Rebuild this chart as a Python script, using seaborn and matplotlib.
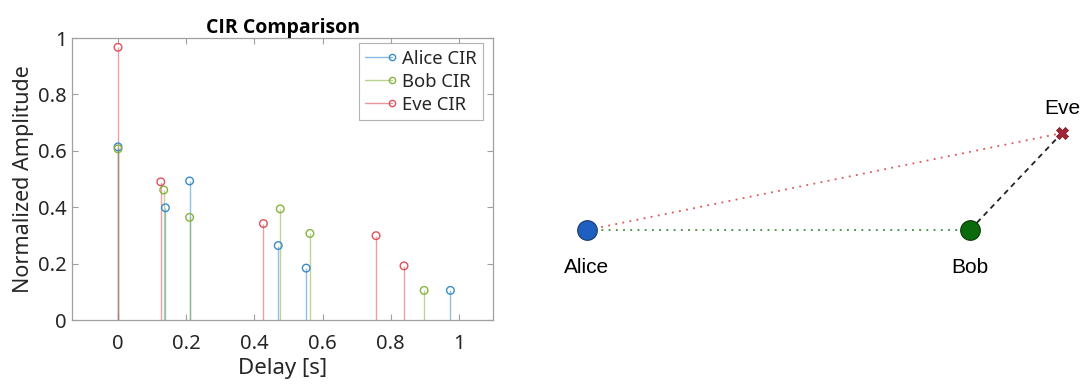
import numpy as np
import pandas as pd
import matplotlib
matplotlib.use("Agg")
import matplotlib.pyplot as plt
from matplotlib.lines import Line2D
from matplotlib.legend_handler import HandlerBase
import seaborn as sns

# ---- data ----
alice_delay = [0.0, 0.139, 0.21, 0.47, 0.552, 0.975]
alice_amp = [0.614, 0.398, 0.493, 0.264, 0.184, 0.105]
bob_delay = [0.0, 0.134, 0.21, 0.476, 0.563, 0.898]
bob_amp = [0.607, 0.461, 0.364, 0.394, 0.307, 0.105]
eve_delay = [0.0, 0.1255, 0.4265, 0.757, 0.839]
eve_amp = [0.967, 0.490, 0.342, 0.299, 0.192]
series_names = ["Alice CIR", "Bob CIR", "Eve CIR"]
x_ticks = [0, 0.2, 0.4, 0.6, 0.8, 1]
y_ticks = [0, 0.2, 0.4, 0.6, 0.8, 1]

node_names = ["Alice", "Bob", "Eve"]
node_x = [0.0, 10.0, 12.4]
node_y = [0.0, 0.0, 2.53]

sns.set_theme(style="white")
plt.rcParams["font.family"] = ["Noto Sans", "DejaVu Sans"]

colors = {"Alice CIR": "#3a8cc8", "Bob CIR": "#86b440", "Eve CIR": "#e0505a"}

rows = []
for name, d, a in zip(series_names, [alice_delay, bob_delay, eve_delay],
                      [alice_amp, bob_amp, eve_amp]):
    for di, ai in zip(d, a):
        rows.append({"series": name, "delay": di, "amp": ai})
df = pd.DataFrame(rows)

fig = plt.figure(figsize=(10.85, 3.85), dpi=100)
ax = fig.add_axes([72 / 1085, 1 - 320 / 385, 421 / 1085, 282 / 385])

for name in series_names:
    sub = df[df.series == name]
    ax.vlines(sub.delay, 0, sub.amp, color=colors[name], lw=1.0, alpha=0.55, zorder=2)
sns.scatterplot(data=df, x="delay", y="amp", hue="series", palette=colors,
                ax=ax, s=30, marker="o", linewidth=1.0,
                legend=False, zorder=3)
coll = ax.collections[-1]
fc = coll.get_facecolors()
coll.set_edgecolors(fc)
coll.set_facecolors("none")

ax.set_xlim(-0.135, 1.1)
ax.set_ylim(0, 1)
ax.set_xticks(x_ticks)
ax.set_xticklabels(["0", "0.2", "0.4", "0.6", "0.8", "1"])
ax.set_yticks(y_ticks)
ax.set_yticklabels(["0", "0.2", "0.4", "0.6", "0.8", "1"])
ax.tick_params(axis="both", which="both", direction="in", length=4, width=0.8,
               color="#a0a0a0", labelsize=14.5, labelcolor="#262626",
               top=True, right=True, bottom=True, left=True)
ax.tick_params(axis="x", pad=10)
ax.tick_params(axis="y", pad=4)
for sp in ax.spines.values():
    sp.set_color("#a0a0a0")
    sp.set_linewidth(0.9)
    sp.set_visible(True)
ax.set_xlabel("Delay [s]", fontsize=16, color="#262626", labelpad=3)
ax.set_ylabel("Normalized Amplitude", fontsize=15.5, color="#262626", labelpad=3)
ax.set_title("CIR Comparison", fontsize=14, fontweight="bold", color="black",
             pad=3, family=["Open Sans", "DejaVu Sans"])


class EndMarkerHandler(HandlerBase):
    def create_artists(self, legend, orig_handle, xdescent, ydescent, width,
                       height, fontsize, trans):
        y = (height - ydescent) / 2.0
        x0, x1 = -xdescent, width - xdescent
        line = Line2D([x0, x1], [y, y], color=orig_handle.get_color(),
                      lw=orig_handle.get_linewidth(), alpha=0.6)
        mk = Line2D([x1], [y], ls="none", marker="o",
                    markersize=orig_handle.get_markersize(),
                    markerfacecolor="none",
                    markeredgecolor=orig_handle.get_color(), markeredgewidth=1.0)
        line.set_transform(trans)
        mk.set_transform(trans)
        return [line, mk]


handles = [Line2D([0], [0], color=colors[n], lw=1.0, marker="o", markersize=4.5,
                  markerfacecolor="none", markeredgecolor=colors[n])
           for n in series_names]
leg = ax.legend(handles, series_names, loc="upper right", fontsize=13.3,
                handlelength=1.45, handletextpad=0.55,
                frameon=True, fancybox=False, borderpad=0.35, labelspacing=0.28,
                bbox_to_anchor=(0.977, 0.982), borderaxespad=0.0,
                handler_map={Line2D: EndMarkerHandler()})
leg.get_frame().set_edgecolor("#a0a0a0")
leg.get_frame().set_linewidth(0.8)

# ---- right panel: geometry ----
ax2 = fig.add_axes([560 / 1085, 1 - 300 / 385, 520 / 1085, 210 / 385])
ppu = 383 / 10.0
ax2.set_xlim((560 - 587) / ppu, (1080 - 587) / ppu)
ax2.set_ylim(-(300 - 230) / ppu, (230 - 90) / ppu)
ax2.axis("off")

ax2.plot([node_x[0], node_x[2]], [node_y[0], node_y[2]], ls=(0, (1, 3)),
         color="#e05555", lw=1.3, zorder=1)
ax2.plot([node_x[0], node_x[1]], [node_y[0], node_y[1]], ls=(0, (1, 3)),
         color="#3c8c3c", lw=1.3, zorder=1)
ax2.plot([node_x[1], node_x[2]], [node_y[1], node_y[2]], ls=(0, (3, 2.5)),
         color="#222222", lw=1.3, zorder=1)

nodes = pd.DataFrame({"name": node_names, "x": node_x, "y": node_y})
sns.scatterplot(data=nodes[nodes.name == "Alice"], x="x", y="y", ax=ax2, s=200,
                color="#1f5fbf", edgecolor="#1a3a70", linewidth=0.8, zorder=3,
                legend=False)
sns.scatterplot(data=nodes[nodes.name == "Bob"], x="x", y="y", ax=ax2, s=200,
                color="#0b6a0b", edgecolor="#083c08", linewidth=0.8, zorder=3,
                legend=False)
sns.scatterplot(data=nodes[nodes.name == "Eve"], x="x", y="y", ax=ax2, s=75,
                marker="X", color="#a02535", edgecolor="#701020", linewidth=0.5,
                zorder=3, legend=False)
ax2.set_xlabel("")
ax2.set_ylabel("")

lab_font = ["Liberation Sans", "DejaVu Sans"]
for n, x, y in zip(node_names, node_x, node_y):
    if n == "Eve":
        ax2.text(x, y + 0.4, n, ha="center", va="bottom", fontsize=15,
                 family=lab_font, color="black")
    else:
        ax2.text(x, y - 0.72, n, ha="center", va="top", fontsize=15,
                 family=lab_font, color="black")

fig.savefig("out.png", dpi=100)
